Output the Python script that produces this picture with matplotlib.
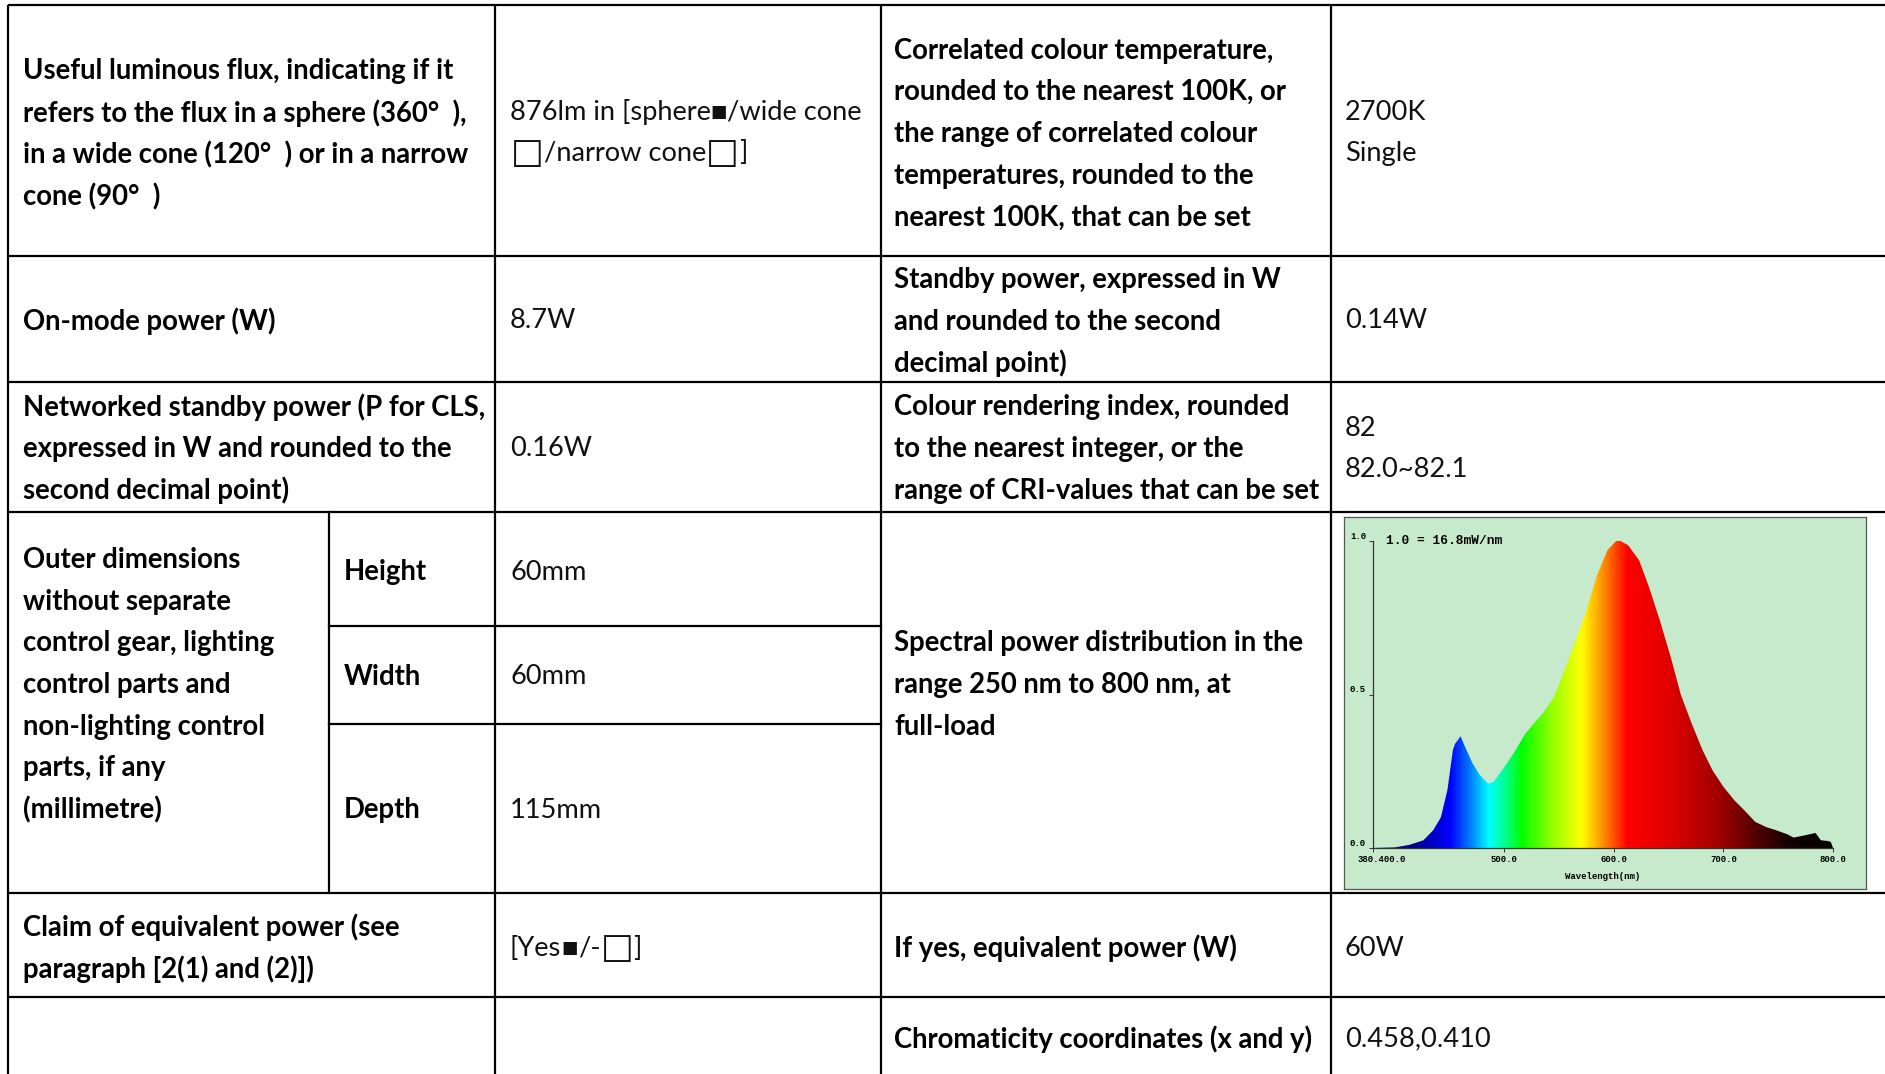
import numpy as np
import matplotlib
matplotlib.use('Agg')
import matplotlib.pyplot as plt
import matplotlib.transforms as mtransforms
from matplotlib.colors import LinearSegmentedColormap

W, H = 1885, 1074

# ---- table text ----
flux_label = ['Useful luminous flux, indicating if it',
              'refers to the flux in a sphere (360°  ),',
              'in a wide cone (120°  ) or in a narrow',
              'cone (90°  )']
cct_label = ['Correlated colour temperature,',
             'rounded to the nearest 100K, or',
             'the range of correlated colour',
             'temperatures, rounded to the',
             'nearest 100K, that can be set']
cct_value = ['2700K', 'Single']
onmode_label = ['On-mode power (W)']
onmode_value = ['8.7W']
standby_label = ['Standby power, expressed in W',
                 'and rounded to the second',
                 'decimal point)']
standby_value = ['0.14W']
net_label = ['Networked standby power (P for CLS,',
             'expressed in W and rounded to the',
             'second decimal point)']
net_value = ['0.16W']
cri_label = ['Colour rendering index, rounded',
             'to the nearest integer, or the',
             'range of CRI-values that can be set']
cri_value = ['82', '82.0~82.1']
dim_label = ['Outer dimensions', 'without separate', 'control gear, lighting',
             'control parts and', 'non-lighting control', 'parts, if any',
             '(millimetre)']
dim_names = ['Height', 'Width', 'Depth']
dim_values = ['60mm', '60mm', '115mm']
spd_label = ['Spectral power distribution in the',
             'range 250 nm to 800 nm, at',
             'full-load']
equiv_label = ['Claim of equivalent power (see',
               'paragraph [2(1) and (2)])']
equiv_yes_label = ['If yes, equivalent power (W)']
equiv_value = ['60W']
chroma_label = ['Chromaticity coordinates (x and y)']
chroma_value = ['0.458,0.410']

# ---- spectrum (relative, 1.0 = 16.8mW/nm) ----
wavelength = [380, 400, 413, 426, 435, 442, 448, 453, 455, 460, 464, 471, 477,
              485, 490, 500, 510, 519, 528, 535, 545, 555, 564, 574, 584, 594,
              602, 606, 613, 623, 632, 642, 652, 661, 671, 681, 690, 700, 710,
              719, 729, 739, 748, 758, 764, 774, 784, 789, 795, 798, 800]
power = [0.0, 0.002, 0.01, 0.025, 0.058, 0.10, 0.19, 0.32, 0.34, 0.364, 0.33,
         0.275, 0.24, 0.21, 0.215, 0.264, 0.318, 0.372, 0.41, 0.438, 0.49,
         0.58, 0.666, 0.763, 0.883, 0.97, 1.0, 1.0, 0.986, 0.937, 0.85, 0.74,
         0.62, 0.50, 0.405, 0.318, 0.253, 0.199, 0.155, 0.123, 0.085, 0.068,
         0.058, 0.045, 0.034, 0.041, 0.049, 0.025, 0.023, 0.02, 0.0]
xticks = [380, 500, 600, 700, 800]
xtick_labels = ['380.400.0', '500.0', '600.0', '700.0', '800.0']
yticks = [0.0, 0.5, 1.0]
ytick_labels = ['0.0', '0.5', '1.0']

FAM = ['Lato', 'DejaVu Sans']
bold = dict(family=FAM, fontsize=19.8, fontweight='bold', color='black')
reg = dict(family=FAM, fontsize=19.6, color='#111111')
styles = {'b': bold, 'r': reg,
          'sq': dict(family='DejaVu Sans', fontsize=12.5, color='#111111'),
          'box': dict(family='DejaVu Sans', fontsize=25, color='#111111')}
LS = 41.7

fig = plt.figure(figsize=(W / 100, H / 100), dpi=100)
tab = fig.add_axes([0, 0, 1, 1])
tab.set_xlim(0, W)
tab.set_ylim(H, 0)
tab.axis('off')

lw = 1.6
for y in [5, 256, 382, 512, 893, 997]:
    tab.plot([8, W], [y, y], color='black', lw=lw, solid_capstyle='butt')
for x in [8, 495, 881, 1331]:
    tab.plot([x, x], [5, H], color='black', lw=lw, solid_capstyle='butt')
tab.plot([329, 329], [512, 893], color='black', lw=lw)
for y in [626, 724]:
    tab.plot([329, 881], [y, y], color='black', lw=lw)


def cell(x, yc, lines, st):
    n = len(lines)
    for i, s in enumerate(lines):
        tab.text(x, yc + (i - (n - 1) / 2) * LS, s, ha='left', va='center', **st)


def runs(x, y, parts):
    prev = None
    for s, kind in parts:
        st = styles[kind]
        if prev is None:
            prev = tab.text(x, y, s, ha='left', va='center', **st)
        else:
            prev = tab.annotate(s, xy=(1, 0.5), xycoords=prev, ha='left',
                                va='center', **st)


c1, csub, c2, c3, c4 = 23, 344, 510, 894, 1345

cell(c1, 134, flux_label, bold)
runs(c2, 112, [('876lm in [sphere', 'r'), ('■', 'sq'), ('/wide cone', 'r')])
runs(c2 + 1, 153, [('□', 'box'), ('/narrow cone', 'r'), ('□', 'box'), (']', 'r')])
cell(c3, 134, cct_label, bold)
cell(c4, 133, cct_value, reg)

cell(c1, 321, onmode_label, bold)
cell(c2, 321, onmode_value, reg)
cell(c3, 322, standby_label, bold)
cell(c4, 321, standby_value, reg)

cell(c1, 449, net_label, bold)
cell(c2, 448, net_value, reg)
cell(c3, 449, cri_label, bold)
cell(c4, 449, cri_value, reg)

cell(c1, 685, dim_label, bold)
for name, val, yc in zip(dim_names, dim_values, [572, 677, 810]):
    cell(csub, yc, [name], bold)
    cell(c2, yc, [val], reg)
cell(c3, 685, spd_label, bold)

cell(c1, 948, equiv_label, bold)
runs(c2, 948, [('[Yes', 'r'), ('■', 'sq'), ('/-', 'r'), ('□', 'box'), (']', 'r')])
cell(c3, 948, equiv_yes_label, bold)
cell(c4, 948, equiv_value, reg)

cell(c3, 1039, chroma_label, bold)
cell(c4, 1039, chroma_value, reg)

# ---- spectrum picture ----
bg = fig.add_axes([1344 / W, 1 - 889 / H, 522 / W, 372 / H])
bg.set_facecolor('#c8eacc')
bg.set_xticks([])
bg.set_yticks([])
for sp in bg.spines.values():
    sp.set_color('#555555')
    sp.set_linewidth(0.9)

ax = fig.add_axes([1373 / W, 1 - 848 / H, 460 / W, 307 / H])
ax.set_facecolor('none')

anchors = [(380, (0.08, 0.0, 0.35)), (420, (0.0, 0.0, 0.6)), (450, (0.0, 0.0, 1.0)),
           (470, (0.0, 0.55, 1.0)), (485, (0.0, 1.0, 1.0)), (500, (0.0, 1.0, 0.55)),
           (515, (0.0, 1.0, 0.0)), (545, (0.62, 1.0, 0.0)), (570, (1.0, 1.0, 0.0)),
           (590, (1.0, 0.55, 0.0)), (612, (1.0, 0.0, 0.0)), (650, (0.88, 0.0, 0.0)),
           (700, (0.6, 0.0, 0.0)), (730, (0.32, 0.0, 0.0)), (760, (0.08, 0.0, 0.0)),
           (800, (0.0, 0.0, 0.0))]
cmap = LinearSegmentedColormap.from_list(
    'spec', [((w - 380) / 420, c) for w, c in anchors])
grad = np.linspace(0, 1, 600)[None, :]
poly = ax.fill_between(wavelength, power, color='none', lw=0)
im = ax.imshow(grad, cmap=cmap, extent=[380, 800, 0, 1], aspect='auto',
               origin='lower', interpolation='bilinear')
im.set_clip_path(poly.get_paths()[0], transform=ax.transData)
ax.set_xlim(380, 800)
ax.set_ylim(0, 1)

for s in ['top', 'right']:
    ax.spines[s].set_visible(False)
for s in ['left', 'bottom']:
    ax.spines[s].set_color('#333333')
    ax.spines[s].set_linewidth(0.9)

mono = dict(fontfamily='Liberation Mono', fontweight='bold', fontsize=6.5)
ax.set_xticks(xticks)
ax.set_xticklabels(xtick_labels, **mono)
ax.set_yticks(yticks)
ax.set_yticklabels(ytick_labels, **mono)
ax.tick_params(length=3, width=0.7, color='#333333', pad=2)
for lbl in ax.get_yticklabels():
    lbl.set_va('bottom')
first = ax.get_xticklabels()[0]
first.set_transform(first.get_transform() +
                    mtransforms.ScaledTranslation(0.09, 0, fig.dpi_scale_trans))
ax.set_xlabel('Wavelength(nm)', labelpad=6, **mono)
ax.text(392, 1.0, '1.0 = 16.8mW/nm', ha='left', va='center',
        family='Liberation Mono', fontweight='bold', fontsize=9.3)

fig.savefig('out.png', dpi=100)
